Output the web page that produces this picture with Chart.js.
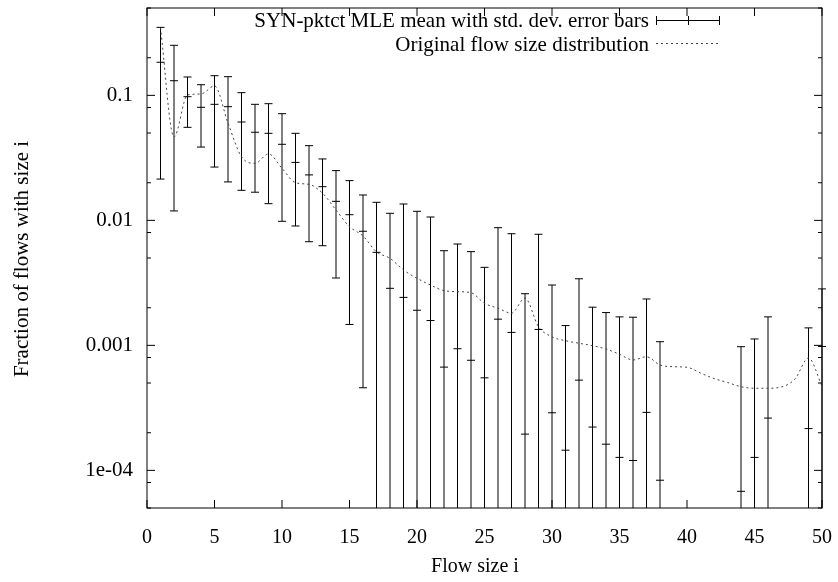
<!DOCTYPE html>
<html>
<head>
<meta charset="utf-8">
<script src="https://cdn.jsdelivr.net/npm/chart.js@4.4.1/dist/chart.umd.min.js"></script>
<style>
  html, body { margin: 0; padding: 0; background: #fff; }
  #wrap { width: 838px; height: 582px; }
</style>
</head>
<body>
<div id="wrap"><canvas id="c" width="838" height="582"></canvas></div>
<script>
// ---------- data ----------
const sizes = [1,2,3,4,5,6,7,8,9,10,11,12,13,14,15,16,17,18,19,20,21,22,23,24,25,26,27,28,29,30,31,32,33,34,35,36,37,38,39,40,41,42,43,44,45,46,47,48,49,50];

const mleMean = [0.184, 0.131, 0.0976, 0.0803, 0.0848, 0.0812, 0.0612, 0.0507, 0.0497, 0.0406,
  0.0291, 0.0231, 0.0186, 0.0142, 0.0111, 0.00818, 0.00555, 0.00286, 0.00242, 0.00191,
  0.00158, 0.00067, 0.00094, 0.00076, 0.00055, 0.00162, 0.00127, 0.000195, 0.00134, 0.000289,
  0.000145, 0.000527, 0.000222, 0.000162, 0.000127, 0.00012, 0.000291, 0.0000834, null, null,
  null, null, null, 0.000068, 0.000127, 0.000262, null, null, 0.000216, 0.00098];

const mleUpper = [0.350, 0.2515, 0.1403, 0.1217, 0.1437, 0.1411, 0.1051, 0.0848, 0.0858, 0.0714,
  0.0497, 0.0396, 0.0310, 0.0250, 0.0208, 0.01596, 0.01395, 0.01139, 0.01352, 0.01182,
  0.01064, 0.00572, 0.00647, 0.00562, 0.00421, 0.00874, 0.00782, 0.00259, 0.00774, 0.00304,
  0.00144, 0.00341, 0.00202, 0.00183, 0.00169, 0.00168, 0.00235, 0.00107, null, null,
  null, null, null, 0.000976, 0.001125, 0.00169, null, null, 0.00138, 0.00283];

// 0 means mean - std.dev. <= 0 (bar runs off the bottom of the log axis)
const mleLower = [0.0214, 0.0119, 0.0555, 0.0386, 0.0267, 0.0203, 0.0174, 0.0168, 0.0136, 0.00983,
  0.00902, 0.00675, 0.00627, 0.00346, 0.00147, 0.000458, 0, 0, 0, 0,
  0, 0, 0, 0, 0, 0, 0, 0, 0, 0,
  0, 0, 0, 0, 0, 0, 0, 0, null, null,
  null, null, null, 0, 0, 0, null, null, 0, 0];

const originalDist = [0.346, 0.0465, 0.1007, 0.1026, 0.119, 0.0601, 0.0323, 0.0286, 0.034, 0.0261,
  0.02, 0.0194, 0.0165, 0.0121, 0.0089, 0.0075, 0.0056, 0.00497, 0.00401, 0.00344,
  0.00304, 0.00274, 0.00269, 0.00264, 0.00217, 0.00198, 0.00181, 0.00239, 0.00141, 0.00117,
  0.00109, 0.00104, 0.000994, 0.000935, 0.000849, 0.000764, 0.000811, 0.000697, 0.000675, 0.000668,
  0.000601, 0.000543, 0.000505, 0.000467, 0.000454, 0.000454, 0.000465, 0.000538, 0.000792, 0.000473];

const xTickValues = [0,5,10,15,20,25,30,35,40,45,50];
const xTickLabels = ['0','5','10','15','20','25','30','35','40','45','50'];
const yTickValues = [0.0001, 0.001, 0.01, 0.1];
const yTickLabels = ['1e-04', '0.001', '0.01', '0.1'];
const yMinorFactors = [2, 5, 8];

const legendLabels = ['SYN-pktct MLE mean with std. dev. error bars', 'Original flow size distribution'];
const xTitle = 'Flow size i';
const yTitle = 'Fraction of flows with size i';

// ---------- chart ----------
const FONT = "'Liberation Serif', 'Times New Roman', serif";
Chart.defaults.font.family = FONT;
Chart.defaults.font.size = 20;
Chart.defaults.color = '#000';

const meanPoints = sizes.map((s, i) => ({ x: s, y: mleMean[i] }));
const origPoints = sizes.map((s, i) => ({ x: s, y: originalDist[i] }));

const gnuplotLook = {
  id: 'gnuplotLook',
  beforeDatasetsDraw(chart) {
    const ctx = chart.ctx, x = chart.scales.x, y = chart.scales.y, a = chart.chartArea;
    ctx.save();
    ctx.strokeStyle = '#000';
    ctx.lineWidth = 1;
    sizes.forEach((s, i) => {
      if (mleUpper[i] == null) return;
      const px = x.getPixelForValue(s);
      const yHi = Math.max(a.top, y.getPixelForValue(mleUpper[i]));
      const clamped = !(mleLower[i] > 0);
      const yLo = clamped ? a.bottom : Math.min(a.bottom, y.getPixelForValue(mleLower[i]));
      ctx.beginPath();
      ctx.moveTo(px, yHi); ctx.lineTo(px, yLo);
      ctx.moveTo(px - 4, yHi); ctx.lineTo(px + 4, yHi);
      if (!clamped) { ctx.moveTo(px - 4, yLo); ctx.lineTo(px + 4, yLo); }
      ctx.stroke();
    });
    ctx.restore();
  },
  afterDraw(chart) {
    const ctx = chart.ctx, x = chart.scales.x, y = chart.scales.y, a = chart.chartArea;
    ctx.save();
    ctx.strokeStyle = '#000';
    ctx.lineWidth = 1;
    // frame
    ctx.strokeRect(a.left, a.top, a.right - a.left, a.bottom - a.top);
    ctx.beginPath();
    // x ticks (bottom & top, inward)
    xTickValues.forEach(v => {
      const px = x.getPixelForValue(v);
      ctx.moveTo(px, a.bottom); ctx.lineTo(px, a.bottom - 8);
      ctx.moveTo(px, a.top); ctx.lineTo(px, a.top + 8);
    });
    // y major ticks
    yTickValues.forEach(v => {
      const py = y.getPixelForValue(v);
      ctx.moveTo(a.left, py); ctx.lineTo(a.left + 8, py);
      ctx.moveTo(a.right, py); ctx.lineTo(a.right - 8, py);
    });
    // y minor ticks
    [0.00001, 0.0001, 0.001, 0.01, 0.1].forEach(dec => {
      yMinorFactors.forEach(f => {
        const v = dec * f;
        if (v < y.min || v > y.max) return;
        const py = y.getPixelForValue(v);
        ctx.moveTo(a.left, py); ctx.lineTo(a.left + 4, py);
        ctx.moveTo(a.right, py); ctx.lineTo(a.right - 4, py);
      });
    });
    ctx.stroke();

    // legend
    ctx.font = '21px ' + FONT;
    ctx.fillStyle = '#000';
    ctx.textAlign = 'right';
    ctx.textBaseline = 'middle';
    const tx = 649, sx0 = 656, sx1 = 719, r1 = 20, r2 = 44;
    ctx.fillText(legendLabels[0], tx, r1 + 1);
    ctx.fillText(legendLabels[1], tx, r2 + 1);
    ctx.beginPath();
    ctx.moveTo(sx0, r1 + 0.5); ctx.lineTo(sx1, r1 + 0.5);
    ctx.moveTo(sx0 + 0.5, r1 - 4); ctx.lineTo(sx0 + 0.5, r1 + 5);
    ctx.moveTo(sx1 + 0.5, r1 - 4); ctx.lineTo(sx1 + 0.5, r1 + 5);
    const mid = Math.round((sx0 + sx1) / 2) + 0.5;
    ctx.moveTo(mid, r1 - 4); ctx.lineTo(mid, r1 + 5);
    ctx.stroke();
    ctx.save();
    ctx.strokeStyle = '#444';
    ctx.setLineDash([2, 3]);
    ctx.beginPath();
    ctx.moveTo(sx0, r2 - 0.5); ctx.lineTo(sx1, r2 - 0.5);
    ctx.stroke();
    ctx.restore();

    // axis titles
    ctx.textAlign = 'center';
    ctx.font = '20px ' + FONT;
    ctx.fillText(xTitle, 475, 567);
    ctx.font = '21px ' + FONT;
    ctx.translate(22, 259);
    ctx.rotate(-Math.PI / 2);
    ctx.fillText(yTitle, 0, 0);
    ctx.restore();
  }
};

new Chart(document.getElementById('c'), {
  type: 'scatter',
  data: {
    datasets: [
      {
        label: legendLabels[0],
        data: meanPoints,
        showLine: false,
        pointStyle: 'line',
        pointRadius: 4,
        pointHoverRadius: 4,
        borderColor: '#000',
        backgroundColor: '#000',
        borderWidth: 1,
        clip: false
      },
      {
        label: legendLabels[1],
        data: origPoints,
        showLine: true,
        pointRadius: 0,
        borderColor: '#444',
        borderWidth: 1,
        borderDash: [2, 3],
        cubicInterpolationMode: 'monotone',
        fill: false
      }
    ]
  },
  options: {
    responsive: false,
    devicePixelRatio: 1,
    animation: false,
    events: [],
    layout: { padding: { left: 0, right: 16, top: 8, bottom: 0 } },
    plugins: { legend: { display: false }, tooltip: { enabled: false } },
    scales: {
      x: {
        type: 'linear',
        min: 0, max: 50,
        grid: { display: false, drawTicks: false },
        border: { display: false },
        afterBuildTicks: s => { s.ticks = xTickValues.map(v => ({ value: v })); },
        ticks: {
          padding: 18,
          maxRotation: 0,
          autoSkip: false,
          callback: (v) => xTickLabels[xTickValues.indexOf(v)]
        },
        afterFit: s => { s.height = 74; s.paddingLeft = 0; s.paddingRight = 0; }
      },
      y: {
        type: 'logarithmic',
        min: 0.00005, max: 0.5,
        grid: { display: false, drawTicks: false },
        border: { display: false },
        afterBuildTicks: s => { s.ticks = yTickValues.map(v => ({ value: v })); },
        ticks: {
          padding: 14,
          autoSkip: false,
          font: { size: 21 },
          callback: (v) => {
            const i = yTickValues.findIndex(t => Math.abs(t - v) / t < 1e-6);
            return i >= 0 ? yTickLabels[i] : '';
          }
        },
        afterFit: s => { s.width = 147; s.paddingTop = 0; s.paddingBottom = 0; }
      }
    }
  },
  plugins: [gnuplotLook]
});
</script>
</body>
</html>
